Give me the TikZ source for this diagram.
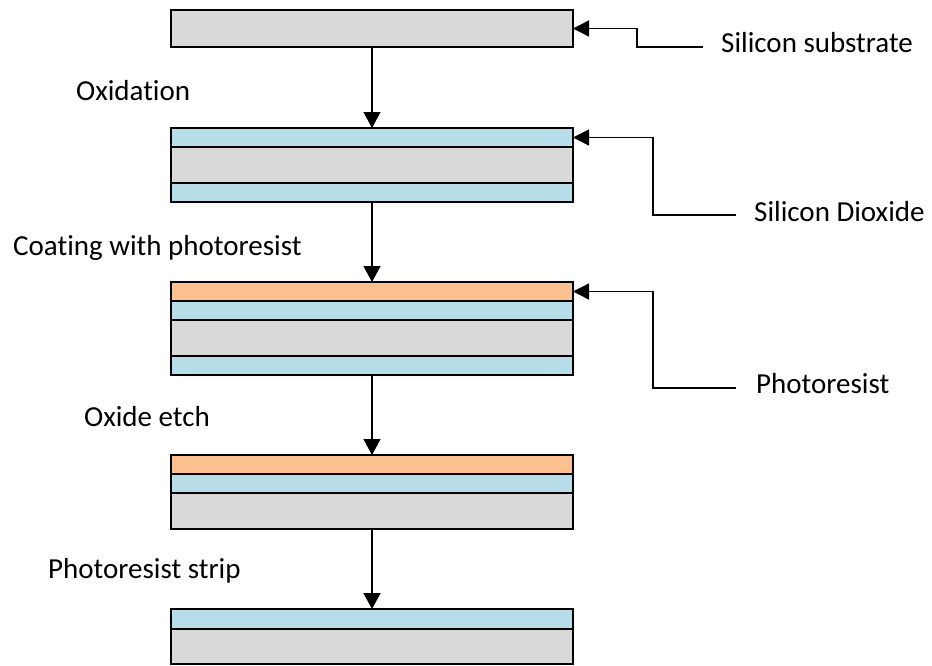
\documentclass[tikz,border=0pt]{standalone}
\usepackage{fontspec}
\setmainfont{Carlito}[Ligatures=NoCommon]
\usetikzlibrary{arrows.meta}
\definecolor{sigray}{HTML}{D9D9D9}
\definecolor{oxblue}{HTML}{B7DEE8}
\definecolor{prorange}{HTML}{FAC090}
\tikzset{
  layer/.style={draw=black, line width=1.7pt, rectangle, anchor=north west,
    inner sep=0pt, outer sep=0pt, minimum width=402pt},
  si/.style={layer, fill=sigray, minimum height=#1},
  ox/.style={layer, fill=oxblue, minimum height=#1},
  pr/.style={layer, fill=prorange, minimum height=#1},
  flow/.style={draw=black, line width=1.4pt, -{Triangle[width=17pt,length=16pt]}},
  lead/.style={draw=black, line width=1.4pt, -{Triangle[width=16pt,length=16pt]}},
  lbl/.style={anchor=base west, inner sep=0pt, font=\fontsize{29}{34}\selectfont}
}
\begin{document}
\begin{tikzpicture}[x=1pt,y=-1pt]
\useasboundingbox (0,0) rectangle (932,665);
% stack 1
\node[si=37pt] (s1) at (171,10) {};
% stack 2
\node[ox=19pt] (s2a) at (171,128) {};
\node[si=36pt] (s2b) at (171,147) {};
\node[ox=19pt] (s2c) at (171,183) {};
% stack 3
\node[pr=19pt] (s3a) at (171,282) {};
\node[ox=19pt] (s3b) at (171,301) {};
\node[si=36pt] (s3c) at (171,320) {};
\node[ox=19pt] (s3d) at (171,356) {};
% stack 4
\node[pr=19pt] (s4a) at (171,455) {};
\node[ox=19pt] (s4b) at (171,474) {};
\node[si=36pt] (s4c) at (171,493) {};
% stack 5
\node[ox=20pt] (s5a) at (171,609) {};
\node[si=35pt] (s5b) at (171,629) {};
% flow arrows
\draw[flow] (s1.south) -- (s2a.north);
\draw[flow] (s2c.south) -- (s3a.north);
\draw[flow] (s3d.south) -- (s4a.north);
\draw[flow] (s4c.south) -- (s5a.north);
% step labels
\node[lbl] (t1) at (76,100) {Oxidation};
\node[lbl] (t2) at (13,255) {Coating with photoresist};
\node[lbl] (t3) at (84,426) {Oxide etch};
\node[lbl] (t4) at (48,578) {Photoresist strip};
% material labels
\node[lbl] (m1) at (721,52) {Silicon substrate};
\node[lbl] (m2) at (754,221) {Silicon Dioxide};
\node[lbl] (m3) at (756,393) {Photoresist};
\coordinate (e1) at (703,47);
\coordinate (k1) at (637,47);
\coordinate (e2) at (736,215);
\coordinate (k2) at (653,215);
\coordinate (e3) at (736,388);
\coordinate (k3) at (653,388);
\draw[lead] (e1) -- (k1) |- (s1.east);
\draw[lead] (e2) -- (k2) |- (s2a.east);
\draw[lead] (e3) -- (k3) |- (s3a.east);
\end{tikzpicture}
\end{document}
